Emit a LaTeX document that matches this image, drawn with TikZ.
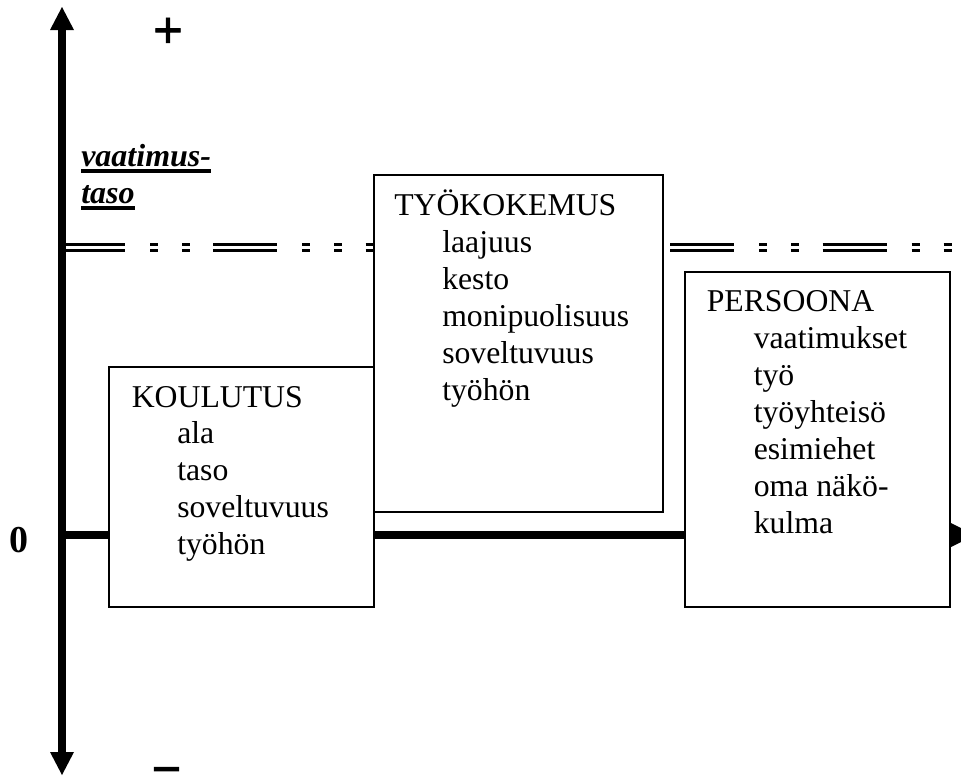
\documentclass[tikz,border=0pt]{standalone}
\usepackage{fontspec}
\setmainfont{Liberation Serif}
\newfontfamily\signfont[FakeBold=1.2]{Liberation Serif}
\begin{document}
\begin{tikzpicture}[x=0.75pt,y=-0.75pt,
  box/.style={draw=black,line width=1.1pt,fill=white},
  txt/.style={inner sep=0pt,anchor=base west,font=\fontsize{23.8pt}{27.75pt}\selectfont},
  bi/.style={inner sep=0pt,anchor=base west,font=\fontsize{24pt}{27.75pt}\selectfont\bfseries\itshape},
  levelline/.style={line width=1.9pt,dash pattern=on 48pt off 18.75pt on 6pt off 18pt on 6pt off 17.5pt},
  axisline/.style={line width=5.6pt},
  sign/.style={inner sep=0pt,font=\fontsize{40pt}{44pt}\signfont\bfseries}]
\useasboundingbox (0,0) rectangle (961,776);
\clip (0,0) rectangle (961,776);
% level line (double, dashed)
\draw[levelline] (61,244.5) -- (961,244.5);
\draw[levelline] (61,250.5) -- (961,250.5);
% vertical axis
\draw[axisline] (62,28) -- (62,754);
\fill (50,30) -- (62,7) -- (74,30) -- cycle;
\fill (50,752) -- (62,775) -- (74,752) -- cycle;
% horizontal axis
\draw[line width=6pt] (62,535) -- (953,535);
\fill (951,523) -- (975,535) -- (951,547) -- cycle;
% boxes
\draw[box] (109,367) rectangle (374,607);
\draw[box] (374,175) rectangle (663,512);
\draw[box] (685,272) rectangle (950,607);
% TYOKOKEMUS
\node[txt] (tkh) at (394,215) {TYÖKOKEMUS};
\foreach \t [count=\i from 1] in {laajuus,kesto,monipuolisuus,soveltuvuus,työhön}
  \node[txt] (tk\i) at (442,{215+37*\i}) {\t};
% KOULUTUS
\node[txt] (kh) at (131.5,407) {KOULUTUS};
\foreach \t [count=\i from 1] in {ala,taso,soveltuvuus,työhön}
  \node[txt] (k\i) at (177,{407+36.8*\i}) {\t};
% PERSOONA
\node[txt] (ph) at (706.5,311.5) {PERSOONA};
\foreach \t [count=\i from 1] in {vaatimukset,työ,työyhteisö,esimiehet,oma näkö-,kulma}
  \node[txt] (p\i) at (753.5,{311.5+37*\i}) {\t};
% axis label
\node[bi] (v1) at (81,166.5) {vaatimus-};
\node[bi] (v2) at (81,203) {taso};
\draw[line width=2.6pt] ([yshift=-3.4pt]v1.base west) -- ([yshift=-3.4pt]v1.base east);
\draw[line width=2.6pt] ([yshift=-3.6pt]v2.base west) -- ([yshift=-3.6pt]v2.base east);
% signs
\node[sign] (plus) at (168,33) {+};
\node[sign] (minus) at (166.5,777) {−};
\node[inner sep=0pt,anchor=base,font=\fontsize{28.5pt}{30pt}\selectfont\bfseries] (zero) at (19,552) {0};
\end{tikzpicture}
\end{document}
